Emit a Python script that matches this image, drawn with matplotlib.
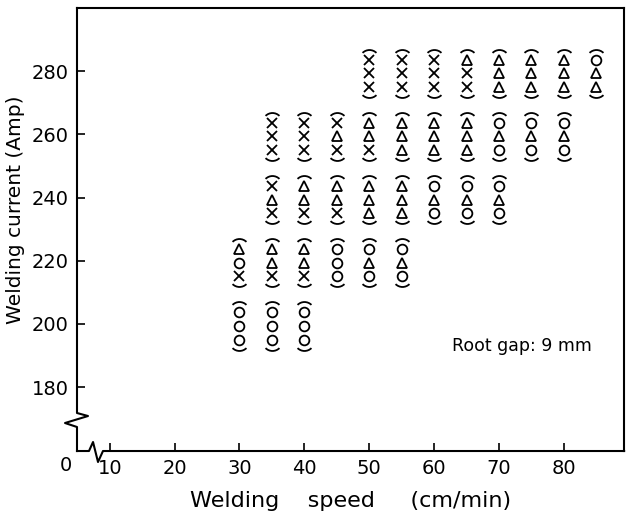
import matplotlib
matplotlib.use("Agg")
import matplotlib.pyplot as plt
from matplotlib.path import Path
from matplotlib import transforms

# welding speed (cm/min), current (A), observed outcomes top -> bottom
# X = cross, T = triangle, O = circle
speeds = [30, 30,
          35, 35, 35, 35,
          40, 40, 40, 40,
          45, 45, 45,
          50, 50, 50, 50,
          55, 55, 55, 55,
          60, 60, 60,
          65, 65, 65,
          70, 70, 70,
          75, 75,
          80, 80,
          85]
currents = [220, 200,
            260, 240, 220, 200,
            260, 240, 220, 200,
            260, 240, 220,
            280, 260, 240, 220,
            280, 260, 240, 220,
            280, 260, 240,
            280, 260, 240,
            280, 260, 240,
            280, 260,
            280, 260,
            280]
results = ["TOX", "OOO",
           "XXX", "XTX", "TTX", "OOO",
           "XXX", "TTX", "TTX", "OOO",
           "XTX", "TTX", "OOO",
           "XXX", "TTX", "TTT", "OTO",
           "XXX", "TTT", "TTT", "OTO",
           "XXX", "TTT", "OTO",
           "TXX", "TTT", "OTO",
           "TTT", "OTO", "OTO",
           "TTT", "OTO",
           "TTT", "OTO",
           "OTT"]

x_ticks = [10, 20, 30, 40, 50, 60, 70, 80]
y_ticks = [180, 200, 220, 240, 260, 280]

plt.rcParams["font.family"] = ["DejaVu Sans"]

fig = plt.figure(figsize=(6.26, 5.19), dpi=100)
ax = fig.add_axes([0.123, 0.131, 0.874, 0.8536])
ax.set_xlim(4.95, 89.3)
ax.set_ylim(159.75, 300)

marker_map = {"X": "x", "T": "^", "O": "o"}


def arc_marker(t1, t2, shift):
    p = Path.arc(t1, t2)
    return Path(p.vertices - [0, shift], p.codes)


top_arc = arc_marker(45, 135, 0.85)
bot_arc = arc_marker(225, 315, -0.85)

step = 9.8   # points between stacked symbols
arc_dy = 16.3
shift = -1.5
for sp, cu, res in zip(speeds, currents, results):
    for i, sym in enumerate(res):
        tr = transforms.offset_copy(ax.transData, fig, x=0, y=(1 - i) * step + shift, units="points")
        ax.plot(sp, cu, marker=marker_map[sym], ms=7, mfc="none", mec="black",
                mew=1.3, ls="none", transform=tr, clip_on=False)
    for dy, arc in ((arc_dy, top_arc), (-arc_dy, bot_arc)):
        tr = transforms.offset_copy(ax.transData, fig, x=0, y=dy + shift, units="points")
        ax.plot(sp, cu, marker=arc, ms=10, mfc="none", mec="black", mew=1.3,
                ls="none", transform=tr, clip_on=False)

ax.set_xticks(x_ticks)
ax.set_yticks(y_ticks)
ax.tick_params(direction="in", length=6, width=1.2, labelsize=14, pad=6)

ax.spines["left"].set_visible(False)
ax.spines["bottom"].set_visible(False)
for s in ("top", "right"):
    ax.spines[s].set_linewidth(1.5)

# broken axes drawn by hand
ax.plot([0, 0, 0.0201, -0.0219, 0, 0], [1, 0.0858, 0.079, 0.0632, 0.0542, 0],
        transform=ax.transAxes, color="black", lw=1.5, clip_on=False)
ax.plot([0, 0.0219, 0.0293, 0.0384, 0.0475, 1], [0, 0, 0.0203, -0.0248, 0, 0],
        transform=ax.transAxes, color="black", lw=1.5, clip_on=False)
ax.text(-0.02, -0.032, "0", transform=ax.transAxes, ha="center", va="center", fontsize=14)

ax.set_xlabel("Welding    speed     (cm/min)", fontsize=16, labelpad=9)
ax.set_ylabel("Welding current (Amp)", fontsize=14.5)
ax.yaxis.set_label_coords(-0.095, 0.544)

ax.text(0.686, 0.226, "Root gap: 9 mm", transform=ax.transAxes, fontsize=12.5,
        ha="left", va="baseline")

fig.savefig("out.png", dpi=100)
